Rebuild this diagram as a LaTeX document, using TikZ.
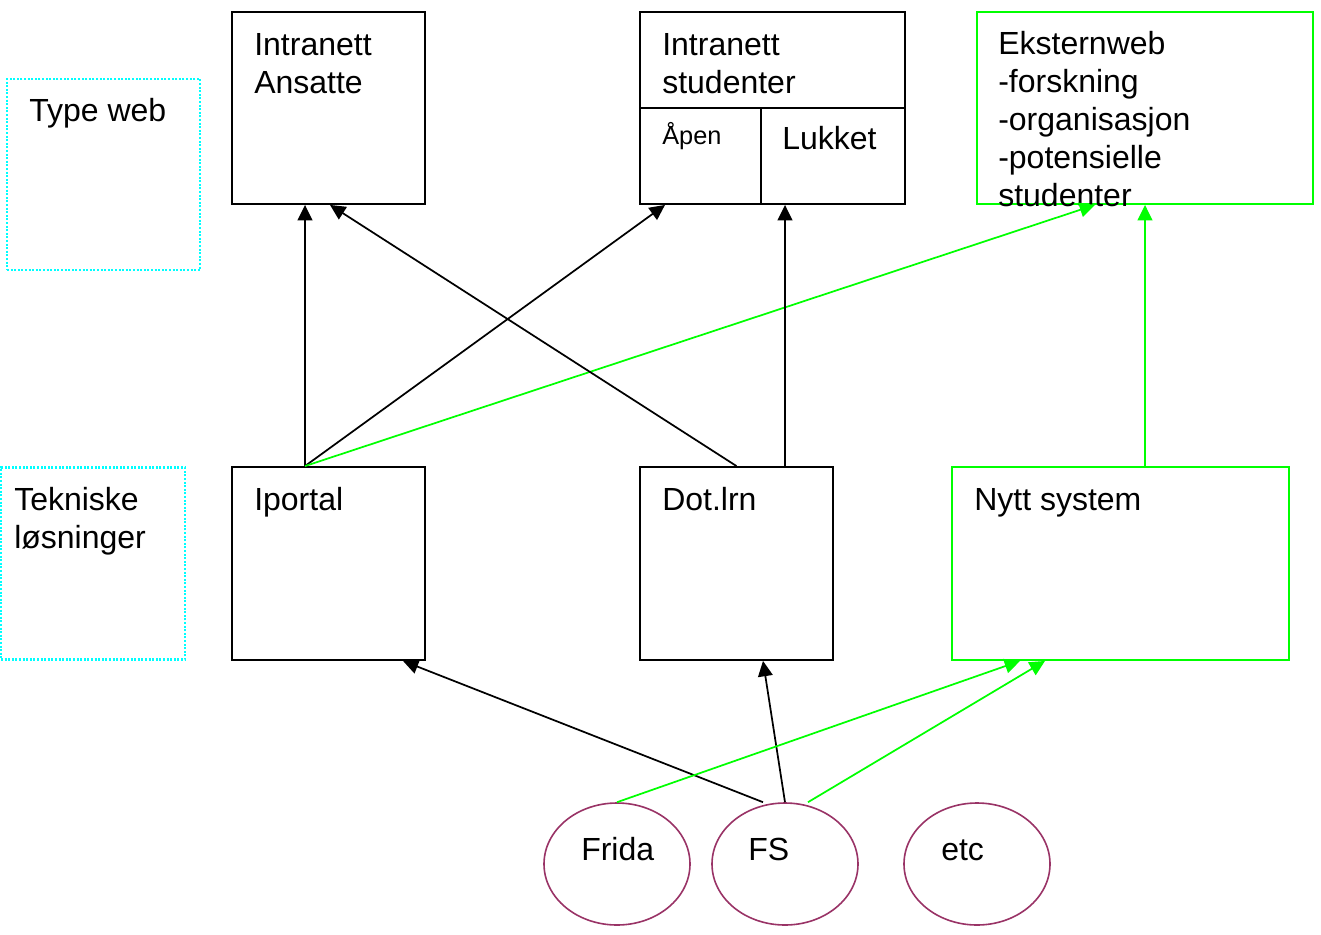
\documentclass[tikz,border=0pt]{standalone}
\usepackage{fontspec}
\setmainfont{Liberation Sans}
\usetikzlibrary{arrows.meta,calc}
\definecolor{dotcyan}{RGB}{0,255,255}
\definecolor{lgreen}{RGB}{0,255,0}
\definecolor{ellcol}{RGB}{153,51,102}
\begin{document}
\begin{tikzpicture}[x=0.75pt,y=-0.75pt,
  box/.style={draw=black,line width=1.4pt,inner sep=0pt},
  gbox/.style={draw=lgreen,line width=1.4pt,inner sep=0pt},
  cbox/.style={draw=dotcyan,line width=1.8pt,dash pattern=on 1.5pt off 1.2pt,inner sep=0pt},
  txt/.style={anchor=base west,inner sep=0pt,font=\fontsize{24}{29}\selectfont},
  stxt/.style={anchor=base west,inner sep=0pt,font=\fontsize{19}{23}\selectfont},
  conn/.style={line width=1.3pt,-{Triangle[length=11.5pt,width=11pt]}},
  bconn/.style={conn,draw=black},
  gconn/.style={conn,draw=lgreen,{-{Triangle[length=11.5pt,width=11pt,fill=lgreen]}}},
  ellnode/.style={draw=ellcol,line width=1.2pt,shape=circle,inner sep=0pt,minimum size=122*0.75pt,xscale=146/122},
]
\useasboundingbox (0,0) rectangle (1321,935);
% boxes
\node[cbox,minimum width=193*0.75pt,minimum height=191*0.75pt] (tw) at (103.5,174.5) {};
\node[cbox,minimum width=184*0.75pt,minimum height=192*0.75pt] (tl) at (93,563.5) {};
\node[box,minimum width=193*0.75pt,minimum height=192*0.75pt] (ia) at (328.5,108) {};
\node[box,minimum width=265*0.75pt,minimum height=192*0.75pt] (is) at (772.5,108) {};
\coordinate (isdl) at (640,108);
\coordinate (isdr) at (905,108);
\coordinate (isvt) at (761,108);
\coordinate (isvb) at (761,204);
\draw[line width=1.4pt] (isdl) -- (isdr);
\draw[line width=1.4pt] (isvt) -- (isvb);
\node[gbox,minimum width=336*0.75pt,minimum height=192*0.75pt] (ew) at (1145,108) {};
\node[box,minimum width=193*0.75pt,minimum height=193*0.75pt] (ip) at (328.5,563.5) {};
\node[box,minimum width=193*0.75pt,minimum height=193*0.75pt] (dl) at (736.5,563.5) {};
\node[gbox,minimum width=337*0.75pt,minimum height=193*0.75pt] (ny) at (1120.5,563.5) {};
% ellipses
\node[ellnode] (fr) at (617,864) {};
\node[ellnode] (fs) at (785,864) {};
\node[ellnode] (etc) at (977,864) {};
% texts
\node[txt] (t1) at (29,121) {Type web};
\node[txt] (t2) at (14,510) {Tekniske};
\node[txt] (t3) at (14,548) {løsninger};
\node[txt] (t4) at (254,55) {Intranett};
\node[txt] (t5) at (254,93) {Ansatte};
\node[txt] (t6) at (662,55) {Intranett};
\node[txt] (t7) at (662,93) {studenter};
\node[stxt] (t8) at (662,144) {Åpen};
\node[txt] (t9) at (782,149) {Lukket};
\node[txt] (t10) at (998,54) {Eksternweb};
\node[txt] (t11) at (998,92) {-forskning};
\node[txt] (t12) at (998,130) {-organisasjon};
\node[txt] (t13) at (998,168) {-potensielle};
\node[txt] (t14) at (998,206) {studenter};
\node[txt] (t15) at (254,510) {Iportal};
\node[txt] (t16) at (662,510) {Dot.lrn};
\node[txt] (t17) at (974,510) {Nytt system};
\node[txt] (t18) at (581,860) {Frida};
\node[txt] (t19) at (748,860) {FS};
\node[txt] (t20) at (941,860) {etc};
% connectors
\draw[bconn] ($(ip.north)+(-23.5,0)$) -- ($(ia.south)+(-23.5,0)$);
\draw[bconn] ($(ip.north)+(-23.5,0)$) -- ($(is.south)+(-107.5,0)$);
\draw[gconn] ($(ip.north)+(-23.5,0)$) -- ($(ew.south)+(-50,0)$);
\draw[bconn] (dl.north) -- ($(ia.south)+(1.5,0)$);
\draw[bconn] ($(dl.north)+(48.5,0)$) -- ($(is.south)+(12.5,0)$);
\draw[gconn] ($(ny.north)+(24.5,0)$) -- (ew.south);
\draw[bconn] ($(fs.north)+(-22,0)$) -- ($(ip.south)+(74.5,0)$);
\draw[bconn] (fs.north) -- ($(dl.south)+(26.5,0)$);
\draw[gconn] (fr.north) -- ($(ny.south)+(-100.5,0)$);
\draw[gconn] ($(fs.north)+(23,0)$) -- ($(ny.south)+(-75.5,0)$);
\end{tikzpicture}
\end{document}
